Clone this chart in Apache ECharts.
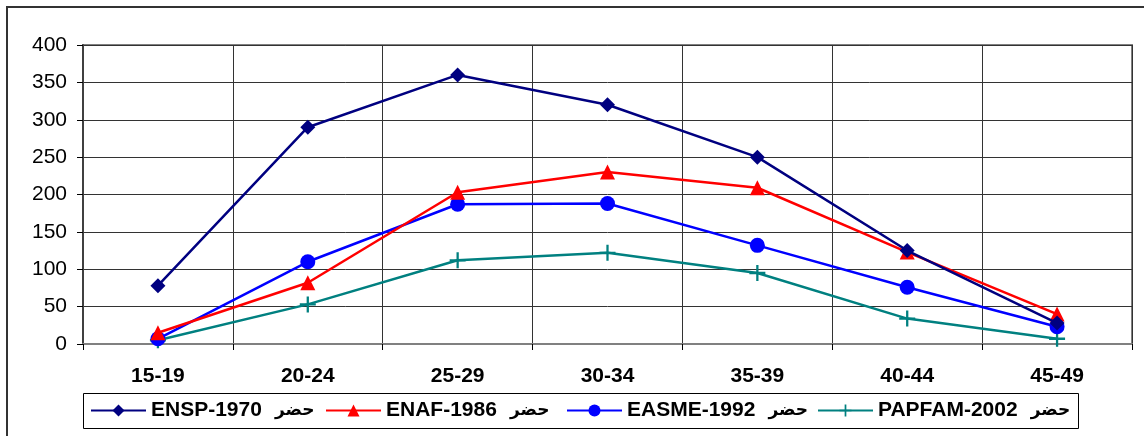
<!DOCTYPE html>
<html>
<head>
<meta charset="utf-8">
<script src="https://cdn.jsdelivr.net/npm/echarts@6/dist/echarts.min.js"></script>
<style>
  html, body { margin: 0; padding: 0; background: #fff; }
  #chart { width: 1144px; height: 436px; }
</style>
</head>
<body>
<div id="chart"></div>
<script>
const categories = ['15-19', '20-24', '25-29', '30-34', '35-39', '40-44', '45-49'];
const seriesNames = ['ENSP-1970  حضر', 'ENAF-1986  حضر', 'EASME-1992  حضر', 'PAPFAM-2002  حضر'];
const ensp1970 = [78, 290, 360, 320, 250, 125, 28];
const enaf1986 = [15, 82, 203, 230, 209, 123, 40];
const easme1992 = [7, 110, 187, 188, 132, 76, 23];
const papfam2002 = [5, 53, 112, 122, 95, 34, 7];
const yTicks = { min: 0, max: 400, interval: 50 };

const colors = ['#000080', '#FF0000', '#0000FF', '#008080'];
const symbols = ['diamond', 'triangle', 'circle', 'path://M6,0H8V6H14V8H8V14H6V8H0V6H6Z'];
const symbolSizes = [15, 15, 15, 16];
const values = [ensp1970, enaf1986, easme1992, papfam2002];
const legendLefts = [90, 325, 566, 817];

const chart = echarts.init(document.getElementById('chart'), null, { renderer: 'canvas' });

const series = seriesNames.map((name, i) => ({
  name: name,
  type: 'line',
  data: values[i],
  symbol: symbols[i],
  symbolSize: symbolSizes[i],
  showAllSymbol: true,
  lineStyle: { color: colors[i], width: 2.5 },
  itemStyle: { color: colors[i] },
  emphasis: { disabled: true },
  animation: false,
  z: 10 - i
}));

const legends = seriesNames.map((name, i) => ({
  data: [name],
  left: legendLefts[i],
  top: 400,
  itemWidth: 55,
  itemHeight: 15,
  itemGap: 0,
  padding: 0,
  formatter: function (n) {
    const parts = n.split('  ');
    return '{a|' + parts[0] + '}{s|}{b|' + parts[1] + '}';
  },
  textStyle: {
    fontFamily: 'Liberation Sans, Arial, DejaVu Sans, sans-serif', fontWeight: 'bold', fontSize: 21, color: '#000',
    rich: {
      a: { fontFamily: 'Liberation Sans, Arial, sans-serif', fontWeight: 'bold', fontSize: 21, color: '#000' },
      s: { width: 13 },
      b: { fontFamily: 'DejaVu Sans, sans-serif', fontWeight: 'bold', fontSize: 17, color: '#000', padding: [1, 0, 0, 0] }
    }
  },
  selectedMode: false
}));

chart.setOption({
  animation: false,
  backgroundColor: '#fff',
  grid: { left: 83, right: 12, top: 45, bottom: 92, show: true, borderColor: '#808080', borderWidth: 2, backgroundColor: 'transparent' },
  legend: legends,
  xAxis: {
    type: 'category',
    data: categories,
    boundaryGap: true,
    axisLine: { show: true, lineStyle: { color: '#808080', width: 2 } },
    axisTick: { show: true, length: 6, lineStyle: { color: '#000', width: 1 } },
    axisLabel: { fontFamily: 'Liberation Sans, Arial, sans-serif', fontWeight: 'bold', fontSize: 21, color: '#000', margin: 22 },
    splitLine: { show: true, lineStyle: { color: '#333', width: 1 } }
  },
  yAxis: {
    type: 'value',
    min: yTicks.min,
    max: yTicks.max,
    interval: yTicks.interval,
    axisLine: { show: true, lineStyle: { color: '#404040', width: 2 } },
    axisTick: { show: true, length: 6, lineStyle: { color: '#000', width: 1 } },
    axisLabel: { fontFamily: 'Liberation Sans, Arial, sans-serif', fontSize: 21, color: '#000', margin: 16 },
    splitLine: { show: true, lineStyle: { color: '#333', width: 1 } }
  },
  graphic: [
    { type: 'rect', shape: { x: 7, y: 7, width: 1160, height: 460 }, style: { fill: 'none', stroke: '#333', lineWidth: 2 }, silent: true, z: -1 },
    { type: 'rect', shape: { x: 83.5, y: 393.5, width: 995, height: 35 }, style: { fill: 'none', stroke: '#000', lineWidth: 1 }, silent: true, z: -1 }
  ],
  series: series
});
</script>
</body>
</html>
